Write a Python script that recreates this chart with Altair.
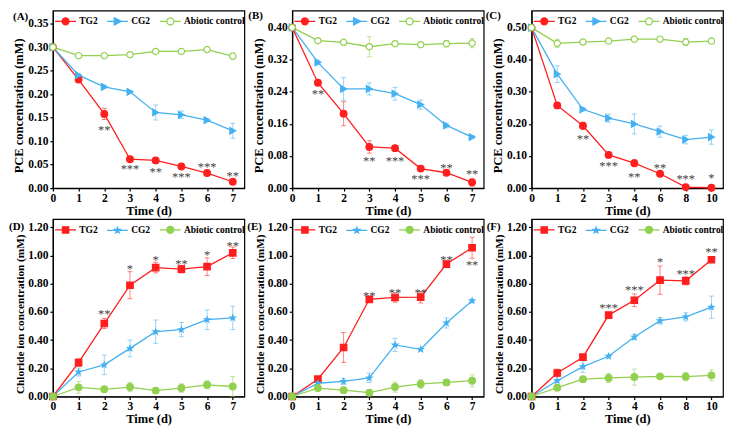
import json
import altair as alt
import pandas as pd

SERIES = ["TG2", "CG2", "Abiotic control"]
COLORS = ["#FF1E1E", "#45B1F0", "#92D050"]
FONT = "Liberation Serif"

# ---------------- Panel A ----------------
A_DAYS = ["0", "1", "2", "3", "4", "5", "6", "7"]
A_TG2 = [0.300, 0.231, 0.158, 0.0615, 0.059, 0.046, 0.032, 0.0135]
A_TG2_ERR = [0.0, 0.004, 0.012, 0.002, 0.003, 0.003, 0.005, 0.003]
A_CG2 = [0.300, 0.2405, 0.2155, 0.205, 0.161, 0.156, 0.1446, 0.122]
A_CG2_ERR = [0.0, 0.003, 0.004, 0.003, 0.016, 0.008, 0.003, 0.016]
A_ABI = [0.300, 0.282, 0.282, 0.284, 0.291, 0.291, 0.295, 0.281]
A_ABI_ERR = [0.0, 0.002, 0.003, 0.003, 0.004, 0.004, 0.003, 0.007]
A_SIG_X = [2, 3, 4, 5, 6, 7]
A_SIG_Y = [0.127, 0.044, 0.0385, 0.028, 0.049, 0.030]
A_SIG_T = ["**", "***", "**", "***", "***", "**"]

# ---------------- Panel B ----------------
B_DAYS = ["0", "1", "2", "3", "4", "5", "6", "7"]
B_TG2 = [0.400, 0.2624, 0.1853, 0.1026, 0.0994, 0.0485, 0.0382, 0.0143]
B_TG2_ERR = [0.0, 0.003, 0.030, 0.0155, 0.003, 0.006, 0.004, 0.0095]
B_CG2 = [0.400, 0.313, 0.247, 0.247, 0.235, 0.208, 0.156, 0.127]
B_CG2_ERR = [0.0, 0.006, 0.028, 0.015, 0.016, 0.0115, 0.006, 0.004]
B_ABI = [0.400, 0.367, 0.363, 0.352, 0.3595, 0.357, 0.3595, 0.361]
B_ABI_ERR = [0.0, 0.003, 0.003, 0.025, 0.006, 0.006, 0.008, 0.0115]
B_SIG_X = [1, 3, 4, 5, 6, 7]
B_SIG_Y = [0.239, 0.0716, 0.0724, 0.0286, 0.054, 0.0406]
B_SIG_T = ["**", "**", "***", "***", "**", "**"]

# ---------------- Panel C ----------------
C_DAYS = ["0", "1", "2", "3", "4", "6", "8", "10"]
C_TG2 = [0.500, 0.2575, 0.194, 0.1034, 0.0775, 0.0447, 0.003, 0.001]
C_TG2_ERR = [0.0, 0.003, 0.011, 0.004, 0.0105, 0.004, 0.002, 0.002]
C_CG2 = [0.500, 0.355, 0.2455, 0.2177, 0.1998, 0.176, 0.151, 0.159]
C_CG2_ERR = [0.0, 0.026, 0.005, 0.0125, 0.031, 0.0175, 0.0134, 0.0224]
C_ABI = [0.500, 0.451, 0.455, 0.458, 0.464, 0.464, 0.455, 0.458]
C_ABI_ERR = [0.0, 0.013, 0.004, 0.004, 0.008, 0.008, 0.011, 0.003]
C_SIG_X = [2, 3, 4, 5, 6, 7]
C_SIG_Y = [0.160, 0.0736, 0.0417, 0.0676, 0.0358, 0.038]
C_SIG_T = ["**", "***", "**", "**", "***", "*"]

# ---------------- Panel D ----------------
D_DAYS = ["0", "1", "2", "3", "4", "5", "6", "7"]
D_TG2 = [0.0, 0.241, 0.518, 0.790, 0.915, 0.904, 0.922, 1.020]
D_TG2_ERR = [0.0, 0.027, 0.036, 0.096, 0.038, 0.028, 0.0625, 0.041]
D_CG2 = [0.0, 0.174, 0.225, 0.3415, 0.46, 0.475, 0.545, 0.558]
D_CG2_ERR = [0.0, 0.028, 0.07, 0.059, 0.083, 0.05, 0.069, 0.083]
D_ABI = [0.0, 0.065, 0.051, 0.067, 0.042, 0.060, 0.083, 0.071]
D_ABI_ERR = [0.0, 0.041, 0.012, 0.032, 0.008, 0.03, 0.028, 0.07]
D_SIG_X = [2, 3, 4, 5, 6, 7]
D_SIG_Y = [0.598, 0.922, 0.982, 0.955, 1.018, 1.085]
D_SIG_T = ["**", "*", "*", "**", "*", "**"]

# ---------------- Panel E ----------------
E_DAYS = ["0", "1", "2", "3", "4", "5", "6", "7"]
E_TG2 = [0.0, 0.123, 0.348, 0.690, 0.703, 0.705, 0.940, 1.056]
E_TG2_ERR = [0.0, 0.01, 0.106, 0.008, 0.033, 0.041, 0.01, 0.075]
E_CG2 = [0.0, 0.094, 0.107, 0.132, 0.366, 0.335, 0.522, 0.679]
E_CG2_ERR = [0.0, 0.008, 0.02, 0.033, 0.046, 0.01, 0.036, 0.012]
E_ABI = [0.0, 0.06, 0.045, 0.027, 0.067, 0.089, 0.100, 0.112]
E_ABI_ERR = [0.0, 0.02, 0.015, 0.01, 0.036, 0.031, 0.01, 0.042]
E_SIG_X = [3, 4, 5, 6, 7]
E_SIG_Y = [0.725, 0.748, 0.748, 0.984, 0.946]
E_SIG_T = ["**", "**", "**", "**", "**"]

# ---------------- Panel F ----------------
F_DAYS = ["0", "1", "2", "3", "4", "6", "8", "10"]
F_TG2 = [0.0, 0.167, 0.279, 0.578, 0.683, 0.826, 0.821, 0.971]
F_TG2_ERR = [0.0, 0.027, 0.01, 0.01, 0.045, 0.10, 0.029, 0.01]
F_CG2 = [0.0, 0.1116, 0.212, 0.2857, 0.422, 0.538, 0.565, 0.634]
F_CG2_ERR = [0.0, 0.008, 0.041, 0.01, 0.019, 0.023, 0.029, 0.079]
F_ABI = [0.0, 0.0625, 0.123, 0.132, 0.138, 0.143, 0.141, 0.150]
F_ABI_ERR = [0.0, 0.01, 0.015, 0.032, 0.057, 0.008, 0.029, 0.039]
F_SIG_X = [3, 4, 5, 6, 7]
F_SIG_Y = [0.643, 0.77, 0.967, 0.884, 1.038]
F_SIG_T = ["***", "***", "*", "***", "**"]

PCE_TICKS_A = [0.0, 0.05, 0.10, 0.15, 0.20, 0.25, 0.30, 0.35]
PCE_TICKS_B = [0.0, 0.08, 0.16, 0.24, 0.32, 0.40]
PCE_TICKS_C = [0.0, 0.10, 0.20, 0.30, 0.40, 0.50]
CL_TICKS = [0.0, 0.20, 0.40, 0.60, 0.80, 1.00, 1.20]

# ---------------- marker / legend symbol shapes ----------------
CIRC = "M1,0A1,1 0 1 1 -1,0A1,1 0 1 1 1,0Z"
STAR = ("M0,-1L0.235,-0.324L0.951,-0.309L0.38,0.124L0.588,0.809L0,0.4"
        "L-0.588,0.809L-0.38,0.124L-0.951,-0.309L-0.235,-0.324Z")
STAR_S = ("M0,-0.85L0.2,-0.275L0.81,-0.263L0.323,0.105L0.5,0.688L0,0.34"
          "L-0.5,0.688L-0.323,0.105L-0.81,-0.263L-0.2,-0.275Z")

TOP_MARKS = [
    dict(shape="circle", fill=COLORS[0], size=45),
    dict(shape="triangle-right", fill=COLORS[1], size=45),
    dict(shape="circle", fill="white", size=40),
]
TOP_LPATHS = ["M-3,0H3" + CIRC, "M-3,0H3M-0.9,-1L1.1,0L-0.9,1Z", "M-3,0H-1M1,0H3" + CIRC]
TOP_LFILLS = [COLORS[0], COLORS[1], "white"]

BOT_MARKS = [
    dict(shape="square", fill=COLORS[0], size=42),
    dict(shape=STAR, fill=COLORS[1], size=30),
    dict(shape="circle", fill=COLORS[2], size=45),
]
BOT_LPATHS = ["M-3,0H3M-0.9,-0.9H0.9V0.9H-0.9Z", "M-3,0H3" + STAR_S, "M-3,0H3" + CIRC]
BOT_LFILLS = COLORS

W, H = 192, 178


def make_panel(days, tg, tg_e, cg, cg_e, ab, ab_e, sx, sy, st, label, lab_x, lab_y,
               ytitle, ymax, yticks, marks, lpaths, lfills, title_y, title_size):
    rows = []
    for s, vals, errs in zip(SERIES, [tg, cg, ab], [tg_e, cg_e, ab_e]):
        for i, (v, e) in enumerate(zip(vals, errs)):
            rows.append(dict(x=i, series=s, value=v, lo=v - e, hi=v + e))
    df = pd.DataFrame(rows)
    n = len(days)
    xenc = alt.X("x:Q", title="Time (d)",
                 scale=alt.Scale(domain=[0, 7.45], nice=False, zero=False),
                 axis=alt.Axis(values=list(range(n)), labelExpr=json.dumps(days) + "[datum.value]",
                               labelFlush=False, tickSize=3, labelPadding=1, titlePadding=1))
    yscale = alt.Scale(domain=[0, ymax], nice=False, zero=True)
    yaxis = alt.Axis(values=yticks, format=".2f", labelFlush=False, tickSize=3,
                     labelPadding=2, titlePadding=2, titleY=title_y, titleFontSize=title_size)

    def yenc(field):
        return alt.Y(field, title=ytitle, scale=yscale, axis=yaxis)

    layers = []
    for s, c in zip(SERIES, COLORS):
        sub = df[df.series == s]
        layers.append(alt.Chart(sub).mark_line(color=c, strokeWidth=1.3)
                      .encode(x=xenc, y=yenc("value:Q")))
    for s, c in zip(SERIES, COLORS):
        sub = df[df.series == s]
        layers.append(alt.Chart(sub).mark_errorbar(color=c, opacity=0.55, thickness=1,
                                                   ticks={"size": 5})
                      .encode(x=xenc, y=yenc("lo:Q"), y2="hi:Q"))
    for s, c, m in zip(SERIES, COLORS, marks):
        sub = df[df.series == s]
        layers.append(alt.Chart(sub).mark_point(shape=m["shape"], filled=True, fill=m["fill"],
                                                stroke=c, strokeWidth=1.2, size=m["size"], opacity=1)
                      .encode(x=xenc, y=yenc("value:Q")))
    leg = alt.Legend(orient="none", legendX=8, legendY=6, direction="horizontal", title=None,
                     labelOffset=9, columnPadding=6, padding=0, symbolSize=49,
                     symbolStrokeWidth=1.3, labelFont=FONT, labelFontWeight="bold",
                     labelFontSize=9.5, labelColor="black", labelLimit=80)
    layers.append(alt.Chart(df).transform_filter("false").mark_point(filled=True, opacity=1, size=49)
                  .encode(x=xenc, y=yenc("value:Q"),
                          shape=alt.Shape("series:N", scale=alt.Scale(domain=SERIES, range=lpaths), legend=leg),
                          stroke=alt.Stroke("series:N", scale=alt.Scale(domain=SERIES, range=COLORS), legend=leg),
                          fill=alt.Fill("series:N", scale=alt.Scale(domain=SERIES, range=lfills), legend=leg)))
    adf = pd.DataFrame({"x": sx, "y": sy, "t": st})
    layers.append(alt.Chart(adf).mark_text(font=FONT, fontSize=12.5, color="#444444",
                                           baseline="alphabetic", dy=6)
                  .encode(x=xenc, y=yenc("y:Q"), text="t:N"))
    layers.append(alt.Chart(pd.DataFrame({"t": [label]}))
                  .mark_text(font=FONT, fontSize=11, fontWeight="bold", color="black",
                             align="left", baseline="middle")
                  .encode(text="t:N", x=alt.value(lab_x), y=alt.value(lab_y)))
    return alt.layer(*layers).properties(width=W, height=H)


PCE = "PCE concentration (mM)"
CL = "Chloride ion concentration (mM)"

pA = make_panel(A_DAYS, A_TG2, A_TG2_ERR, A_CG2, A_CG2_ERR, A_ABI, A_ABI_ERR,
                A_SIG_X, A_SIG_Y, A_SIG_T, "(A)", -40, 6, PCE, 0.378, PCE_TICKS_A,
                TOP_MARKS, TOP_LPATHS, TOP_LFILLS, 95, 12.5)
pB = make_panel(B_DAYS, B_TG2, B_TG2_ERR, B_CG2, B_CG2_ERR, B_ABI, B_ABI_ERR,
                B_SIG_X, B_SIG_Y, B_SIG_T, "(B)", -44, 5, PCE, 0.442, PCE_TICKS_B,
                TOP_MARKS, TOP_LPATHS, TOP_LFILLS, 95, 12.5)
pC = make_panel(C_DAYS, C_TG2, C_TG2_ERR, C_CG2, C_CG2_ERR, C_ABI, C_ABI_ERR,
                C_SIG_X, C_SIG_Y, C_SIG_T, "(C)", -46, 5, PCE, 0.553, PCE_TICKS_C,
                TOP_MARKS, TOP_LPATHS, TOP_LFILLS, 95, 12.5)
pD = make_panel(D_DAYS, D_TG2, D_TG2_ERR, D_CG2, D_CG2_ERR, D_ABI, D_ABI_ERR,
                D_SIG_X, D_SIG_Y, D_SIG_T, "(D)", -44, 8, CL, 1.26, CL_TICKS,
                BOT_MARKS, BOT_LPATHS, BOT_LFILLS, 95, 11.3)
pE = make_panel(E_DAYS, E_TG2, E_TG2_ERR, E_CG2, E_CG2_ERR, E_ABI, E_ABI_ERR,
                E_SIG_X, E_SIG_Y, E_SIG_T, "(E)", -45, 8, CL, 1.26, CL_TICKS,
                BOT_MARKS, BOT_LPATHS, BOT_LFILLS, 95, 11.3)
pF = make_panel(F_DAYS, F_TG2, F_TG2_ERR, F_CG2, F_CG2_ERR, F_ABI, F_ABI_ERR,
                F_SIG_X, F_SIG_Y, F_SIG_T, "(F)", -45, 8, CL, 1.26, CL_TICKS,
                BOT_MARKS, BOT_LPATHS, BOT_LFILLS, 95, 11.3)

chart = (
    alt.concat(pA, pB, pC, pD, pE, pF, columns=3, spacing={"row": 31, "column": 48}, bounds="flush")
    .resolve_scale(shape="independent", stroke="independent", fill="independent")
    .resolve_legend(shape="independent", stroke="independent", fill="independent")
    .properties(padding=0)
    .configure_axis(labelFont=FONT, labelFontWeight="bold", labelFontSize=11.5, labelColor="black",
                    titleFont=FONT, titleFontWeight="bold", titleFontSize=12.5, titleColor="black",
                    domainColor="black", domainWidth=1.2, tickColor="black", tickWidth=1.2, grid=False)
    .configure_view(stroke="black", strokeWidth=1.2)
)

chart.save("out.html", embed_options={"renderer": "svg", "actions": False})
